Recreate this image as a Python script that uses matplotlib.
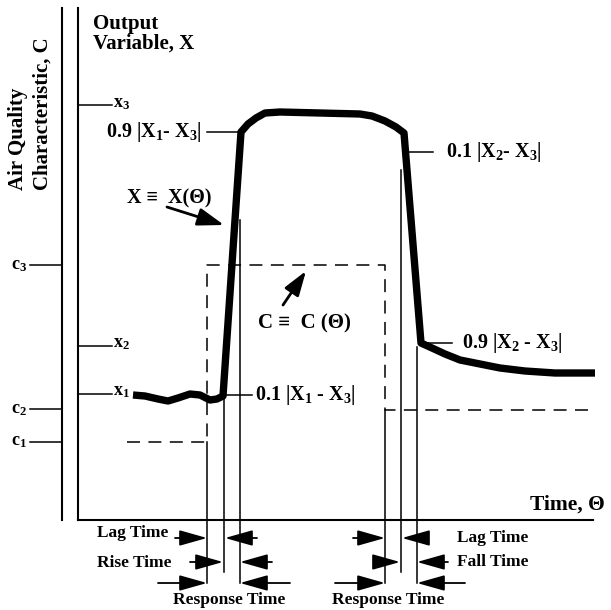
import matplotlib

matplotlib.use("Agg")
import matplotlib.pyplot as plt

# Schematic drawn in pixel space of the reference (x to the right, y downwards).

# Output variable X(Theta): wavy baseline, rise, plateau, fall, slow decay
OUTPUT_X = [133, 145, 158, 168, 178, 190, 200, 210, 217, 223,
            241, 248, 256, 265, 280, 320, 360, 372, 385, 396, 404,
            421, 432, 445, 460, 480, 500, 525, 555, 595]
OUTPUT_Y = [395, 396, 399, 401, 398, 394, 395, 400, 399, 396,
            132, 124, 118, 113, 112, 113, 114, 116, 121, 127, 133,
            343, 348, 354, 360, 364, 368, 371, 373, 373]

# Air quality characteristic C(Theta): step up and step down (dashed)
STIMULUS_X = [127, 207, 207, 385, 385, 590]
STIMULUS_Y = [442, 442, 265, 265, 410, 410]

# Axis levels
C_LEVELS = [265, 409, 442]
C_LABELS = ["c$_3$", "c$_2$", "c$_1$"]
X_LEVELS = [105, 346, 394]
X_LABELS = ["x$_3$", "x$_2$", "x$_1$"]

# Vertical time markers: x position, top, bottom
MARKER_X = [207, 224, 240, 385, 401, 417]
MARKER_TOP = [442, 396, 220, 410, 170, 347]
MARKER_BOTTOM = [583, 572, 583, 583, 572, 583]

# Level leaders: x start, x end, y, label, label x
LEADER_X0 = [207, 222, 405, 423]
LEADER_X1 = [240, 252, 433, 452]
LEADER_Y = [132, 395, 152, 343]
LEADER_LABELS = ["0.9 |X$_1$- X$_3$|", "0.1 |X$_1$ - X$_3$|",
                 "0.1 |X$_2$- X$_3$|", "0.9 |X$_2$ - X$_3$|"]
LEADER_LABEL_X = [106, 255, 446, 462]

# Time interval arrows: tail x, head x, y
INTERVAL_TAIL = [175, 257, 190, 272, 158, 290,
                 353, 422, 375, 448, 335, 465]
INTERVAL_HEAD = [207, 225, 223, 240, 207, 240,
                 385, 402, 400, 417, 385, 417]
INTERVAL_Y = [538, 538, 562, 562, 583, 583,
              538, 538, 562, 562, 583, 583]

INTERVAL_LABELS = ["Lag Time", "Rise Time", "Response Time",
                   "Response Time", "Lag Time", "Fall Time"]
INTERVAL_LABEL_X = [97, 97, 229, 388, 457, 457]
INTERVAL_LABEL_Y = [533, 563, 600, 600, 538, 562]
INTERVAL_LABEL_HA = ["left", "left", "center", "center", "left", "left"]

SERIF = ["Liberation Serif", "DejaVu Serif"]

plt.rcParams["mathtext.fontset"] = "custom"
plt.rcParams["mathtext.rm"] = "Liberation Serif:bold"
plt.rcParams["mathtext.it"] = "Liberation Serif:bold"
plt.rcParams["mathtext.bf"] = "Liberation Serif:bold"
plt.rcParams["mathtext.default"] = "rm"

fig = plt.figure(figsize=(6.11, 6.10), dpi=100)
ax = fig.add_axes([0, 0, 1, 1])
ax.set_xlim(0, 611)
ax.set_ylim(610, 0)
ax.axis("off")

txt = dict(family=SERIF, weight="bold", color="black")

# axes
ax.plot([62, 62], [8, 520], color="black", lw=1.5)
ax.plot([78, 78], [8, 520], color="black", lw=1.5)
ax.plot([78, 593], [520, 520], color="black", lw=1.5)

for level, label in zip(C_LEVELS, C_LABELS):
    ax.plot([30, 62], [level, level], color="black", lw=1.1)
    ax.text(27, level, label, ha="right", va="center", fontsize=13, **txt)
for level, label in zip(X_LEVELS, X_LABELS):
    ax.plot([78, 112], [level, level], color="black", lw=1.1)
    ax.text(113, level - 2, label, ha="left", va="center", fontsize=13, **txt)

ax.text(18, 190, "Air Quality", rotation=90, ha="center", va="bottom",
        fontsize=15, **txt)
ax.text(43, 190, "Characteristic, C", rotation=90, ha="center", va="bottom",
        fontsize=15, **txt)
ax.text(93, 14, "Output\nVariable, X", ha="left", va="top", fontsize=15,
        linespacing=0.95, **txt)
ax.text(530, 505, "Time, \u0398", ha="left", va="center", fontsize=15.5, **txt)

# time markers
for x, top, bottom in zip(MARKER_X, MARKER_TOP, MARKER_BOTTOM):
    ax.plot([x, x], [top, bottom], color="black", lw=1.1)

# C(Theta) step
ax.plot(STIMULUS_X, STIMULUS_Y, color="black", lw=1.1, dashes=(8.5, 5.5))

# X(Theta) response
ax.plot(OUTPUT_X, OUTPUT_Y, color="black", lw=5.3,
        solid_joinstyle="round", solid_capstyle="butt")

# level leaders and labels
for x0, x1, y, label, lx in zip(LEADER_X0, LEADER_X1, LEADER_Y,
                                LEADER_LABELS, LEADER_LABEL_X):
    ax.plot([x0, x1], [y, y], color="black", lw=1.1)
    ax.text(lx, y, label, ha="left", va="center", fontsize=14.5, **txt)

# curve labels with pointers
ax.text(127, 198, "X \u2261  X(\u0398)", ha="left", va="center",
        fontsize=14.5, **txt)
ax.annotate("", xy=(224, 225), xytext=(167, 207),
            arrowprops=dict(arrowstyle="-|>,head_length=0.8,head_width=0.27",
                            color="black", lw=2.0, shrinkA=0, shrinkB=0,
                            mutation_scale=20))
ax.text(258, 323, "C \u2261  C (\u0398)", ha="left", va="center",
        fontsize=15, **txt)
ax.annotate("", xy=(306, 271), xytext=(283, 305),
            arrowprops=dict(arrowstyle="-|>,head_length=0.75,head_width=0.25",
                            color="black", lw=2.0, shrinkA=0, shrinkB=0,
                            mutation_scale=20))

# interval arrows
for tail, head, y in zip(INTERVAL_TAIL, INTERVAL_HEAD, INTERVAL_Y):
    ax.annotate("", xy=(head, y), xytext=(tail, y),
                arrowprops=dict(arrowstyle="-|>,head_length=0.85,head_width=0.24",
                                color="black", lw=1.3, shrinkA=0, shrinkB=0,
                                mutation_scale=20))

for label, x, y, ha in zip(INTERVAL_LABELS, INTERVAL_LABEL_X,
                           INTERVAL_LABEL_Y, INTERVAL_LABEL_HA):
    ax.text(x, y, label, ha=ha, va="center", fontsize=12.5, **txt)

fig.savefig("out.png", dpi=100)
